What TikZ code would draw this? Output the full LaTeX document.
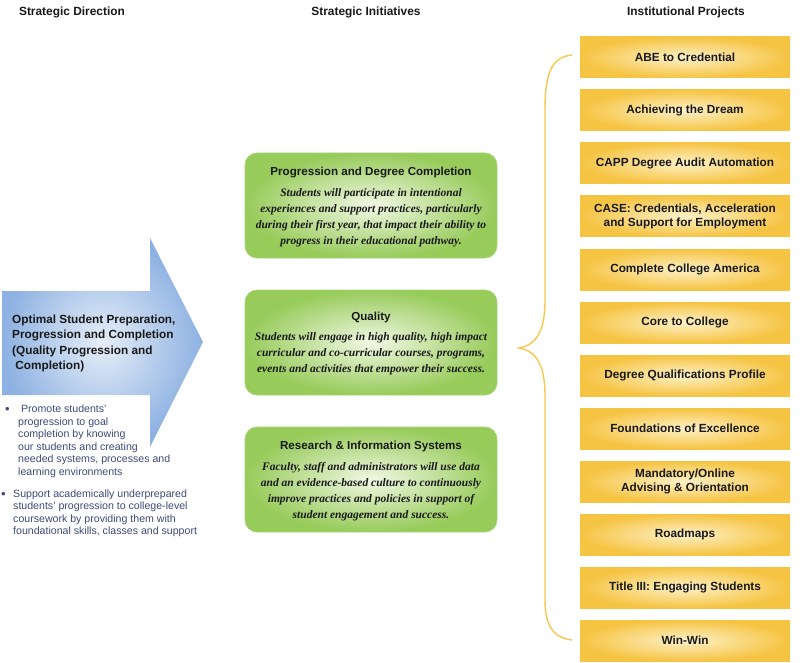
\documentclass[tikz,border=0pt]{standalone}
\usepackage{fontspec}
\setmainfont{Liberation Serif}
\setsansfont{Liberation Sans}
\definecolor{projout}{HTML}{F6C443}
\definecolor{projin}{HTML}{FDF1C8}
\definecolor{initout}{HTML}{97CB5A}
\definecolor{initin}{HTML}{F1F8E4}
\definecolor{initline}{HTML}{A6D478}
\definecolor{arrowout}{HTML}{8DB1E2}
\definecolor{arrowin}{HTML}{E6EEF8}
\definecolor{bullettext}{HTML}{3E4A78}
\definecolor{bracecol}{HTML}{F6C850}
\begin{document}
\begin{tikzpicture}
[
x=1pt,y=-1pt,
heading/.style={font=\sffamily\bfseries\fontsize{11.9}{14}\selectfont,text=black!90},
project/.style={minimum width=210pt,minimum height=41pt,inner sep=0pt,inner color=projin,outer color=projout,align=center,font=\sffamily\bfseries\fontsize{11.8}{14}\selectfont,text=black!90},
initiative/.style={rounded corners=12pt,draw=initline,line width=0.6pt,minimum width=252pt,minimum height=105pt,inner color=initin,outer color=initout},
inittitle/.style={inner sep=0pt,font=\sffamily\bfseries\fontsize{11.6}{14}\selectfont,text=black!90},
initbody/.style={inner sep=0pt,align=center,font=\bfseries\itshape\fontsize{11.5}{16}\selectfont,text=black!90},
bullet/.style={inner sep=0pt,anchor=west,align=left,font=\sffamily\fontsize{10.6}{12.5}\selectfont,text=bullettext},
]
\useasboundingbox (0,0) rectangle (800,663);

%Column headings
\node[heading] (hdir) at (72,12) {Strategic Direction};
\node[heading] (hini) at (366,12) {Strategic Initiatives};
\node[heading] (hpro) at (686,12) {Institutional Projects};

%The direction arrow
\shade[inner color=arrowin,outer color=arrowout] (2,291) -- (150,291) -- (150,238) -- (203,342) -- (150,447) -- (150,395) -- (2,395) -- cycle;
\node[inner sep=0pt,anchor=west,align=left,font=\sffamily\bfseries\fontsize{11.8}{15.5}\selectfont,text=black!90] (dir) at (12,343.5)
  {Optimal Student Preparation,\\Progression and Completion\\(Quality Progression and\\\ Completion)};

%Bullets below the arrow
\node[bullet,font=\sffamily\fontsize{13}{13}\selectfont] (b1dot) at (5,410) {\textbullet};
\node[bullet] (b1) at (18,441.5) {\ Promote students’\\progression to goal\\completion by knowing\\our students and creating\\needed systems, processes and\\learning environments};
\node[bullet,font=\sffamily\fontsize{13}{13}\selectfont] (b2dot) at (1,495) {\textbullet};
\node[bullet] (b2) at (13,513.5) {Support academically underprepared\\students’ progression to college-level\\coursework by providing them with\\foundational skills, classes and support};

%Strategic initiatives
\node[initiative] (pdc) at (371,205.5) {};
\node[inittitle] (pdct) at (371,173) {Progression and Degree Completion};
\node[initbody] (pdcb) at (371,217.5) {Students will participate in intentional\\experiences and support practices, particularly\\during their first year, that impact their ability to\\progress in their educational pathway.};

\node[initiative] (qual) at (371,342.5) {};
\node[inittitle] (qualt) at (371,317) {Quality};
\node[initbody] (qualb) at (371,353.5) {Students will engage in high quality, high impact\\curricular and co-curricular courses, programs,\\events and activities that empower their success.};

\node[initiative] (ris) at (371,479.5) {};
\node[inittitle] (rist) at (371,446) {Research \& Information Systems};
\node[initbody] (risb) at (371,491.5) {Faculty, staff and administrators will use data\\and an evidence-based culture to continuously\\improve practices and policies in support of\\student engagement and success.};

%Institutional projects
\node[project] (abe) at (685,57.5) {ABE to Credential};
\node[project] (atd) at (685,110.5) {Achieving the Dream};
\node[project] (capp) at (685,163) {CAPP Degree Audit Automation};
\node[project] (case) at (685,216) {CASE: Credentials, Acceleration\\and Support for Employment};
\node[project] (cca) at (685,269.5) {Complete College America};
\node[project] (core) at (685,322.5) {Core to College};
\node[project] (dqp) at (685,375.5) {Degree Qualifications Profile};
\node[project] (foe) at (685,428.5) {Foundations of Excellence};
\node[project] (adv) at (685,481.5) {Mandatory/Online\\Advising \& Orientation};
\node[project] (road) at (685,534.5) {Roadmaps};
\node[project] (title) at (685,587.5) {Title III: Engaging Students};
\node[project] (win) at (685,640.5) {Win-Win};

%The brace
\draw[bracecol,line width=1.4pt] (572,55) .. controls (552,57) and (545,72) .. (545,110) -- (545,300)
  .. controls (545,332) and (536,345) .. (519,348) .. controls (536,351) and (545,364) .. (545,396)
  -- (545,600) .. controls (545,625) and (553,638) .. (572,640);
\end{tikzpicture}
\end{document}
